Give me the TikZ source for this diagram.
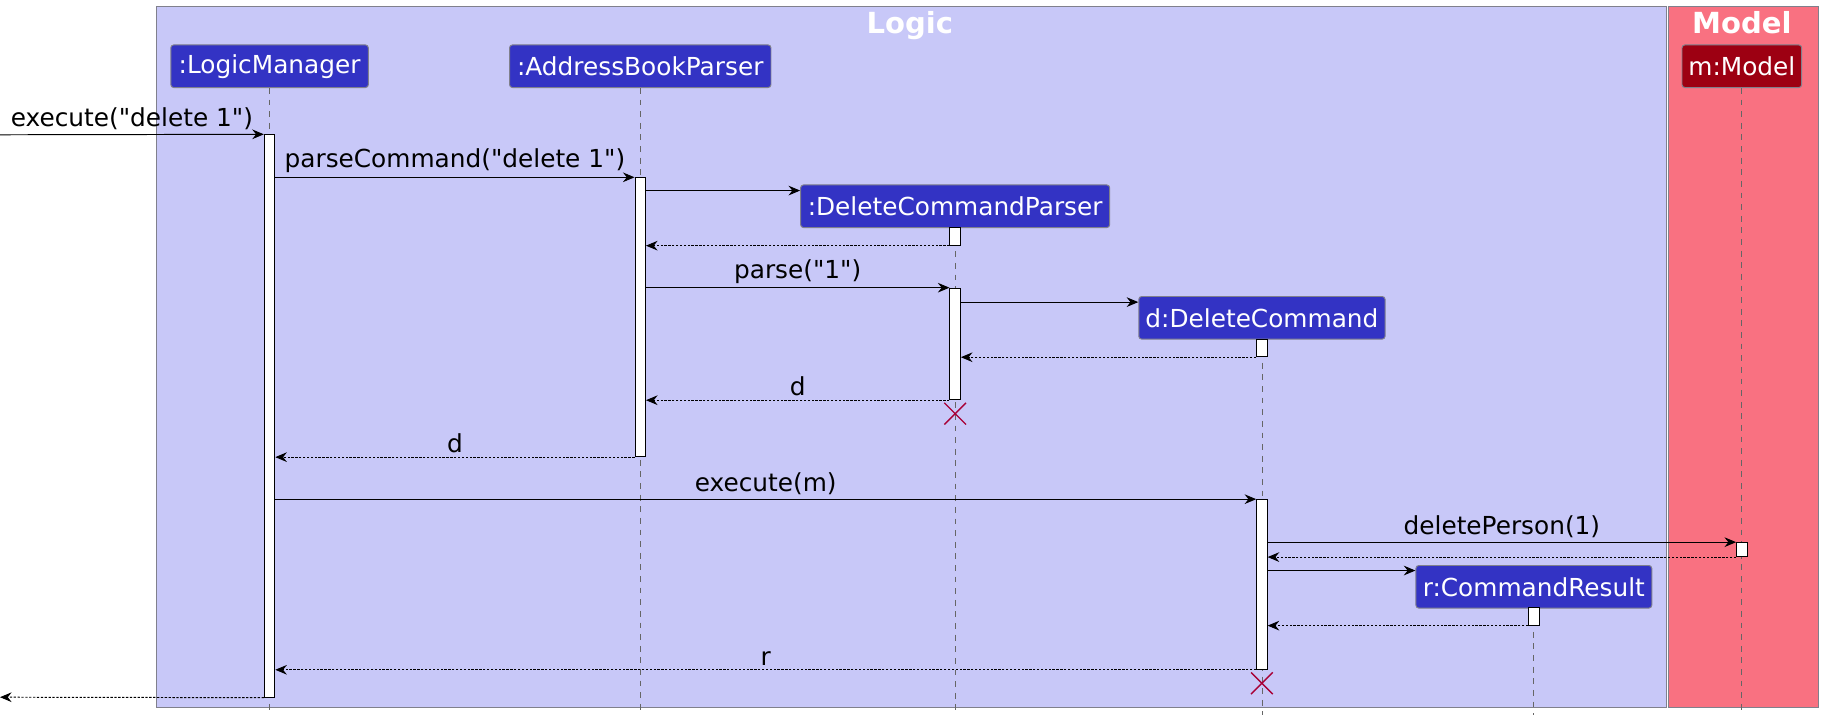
\documentclass[tikz,border=0pt]{standalone}
\usepackage{fontspec}
\setmainfont{DejaVu Sans}[Ligatures=TeXOff]
\usetikzlibrary{arrows.meta,fit,shapes.misc}

\definecolor{logicbg}{RGB}{200,200,248}
\definecolor{modelbg}{RGB}{249,113,129}
\definecolor{partblue}{RGB}{51,51,196}
\definecolor{partred}{RGB}{157,0,18}
\definecolor{killred}{RGB}{168,0,54}
\definecolor{framegray}{RGB}{128,128,140}

\tikzset{
  frame/.style={draw=framegray, line width=0.5pt},
  frametitle/.style={text=white, anchor=base, font=\fontsize{15}{18}\selectfont\bfseries},
  part/.style={draw=framegray, fill=partblue, text=white, rounded corners=1.5pt,
    line width=0.5pt, minimum height=22pt, inner sep=0pt, font=\fontsize{12.8}{15}\selectfont},
  life/.style={draw=black!60, line width=0.4pt, dash pattern=on 3pt off 3pt},
  act/.style={draw=black, fill=white, line width=0.5pt, inner sep=0pt},
  msg/.style={-{Stealth[length=6pt,width=5pt,inset=2pt]}, line width=0.5pt},
  ret/.style={msg, dash pattern=on 1.2pt off 0.8pt},
  lbl/.style={above, inner sep=2pt, text=black, font=\fontsize{12.8}{15}\selectfont},
  kill/.style={cross out, draw=killred, line width=0.7pt, minimum size=10.5pt, inner sep=0pt}
}

\newcommand{\actbar}[4]{\node[act, fit={(#2-4.5,#3)(#2+4.5,#4)}] (#1) {};}

\begin{document}
\begin{tikzpicture}[x=0.6pt, y=-0.6pt]
\useasboundingbox (0,0) rectangle (1568,620);

% Boxes
\draw[frame, fill=logicbg] (135,6) rectangle (1434,609);
\draw[frame, fill=modelbg] (1436,6) rectangle (1565,609);
\node[frametitle] (logicT) at (783,28.5) {Logic};
\node[frametitle] (modelT) at (1499,28.5) {Model};

% Participants
\node[part, minimum width=102pt] (lm) at (232,57) {:LogicManager};
\node[part, minimum width=135pt] (abp) at (551,57) {:AddressBookParser};
\node[part, minimum width=159.6pt] (dcp) at (822,177.5) {:DeleteCommandParser};
\node[part, minimum width=127.2pt] (dc) at (1086,273.5) {d:DeleteCommand};
\node[part, minimum width=121.8pt] (cr) at (1320,505) {r:CommandResult};
\node[part, fill=partred, minimum width=61.8pt] (m) at (1499,57) {m:Model};

\foreach \p in {lm,abp,dcp,dc,cr,m}
  \draw[life] (\p.south) -- (\p.south |- 0,615);

% Activations
\actbar{lmA}{232}{116}{600}
\actbar{abpA}{551}{153}{393}
\actbar{dcpA1}{822}{196}{211}
\actbar{dcpA2}{822}{248}{344}
\actbar{dcA1}{1086}{292}{307}
\actbar{dcA2}{1086}{430}{576}
\actbar{crA}{1320}{523}{538}
\actbar{mA}{1499}{467}{479}

% Messages
\coordinate (in) at (0,116);
\coordinate (out) at (0,600);
\draw[msg] (in) -- (lmA.north west) node[lbl, midway] {execute("delete 1")};
\draw[msg] (lmA.east |- abpA.north) -- (abpA.north west) node[lbl, midway] {parseCommand("delete 1")};
\draw[msg] (abpA.east |- 0,164) -- (dcp.west |- 0,164);
\draw[ret] (dcpA1.south west) -- (abpA.east |- dcpA1.south);
\draw[msg] (abpA.east |- dcpA2.north) -- (dcpA2.north west) node[lbl, midway] {parse("1")};
\draw[msg] (dcpA2.east |- 0,260) -- (dc.west |- 0,260);
\draw[ret] (dcA1.south west) -- (dcpA2.east |- dcA1.south);
\draw[ret] (dcpA2.south west) -- (abpA.east |- dcpA2.south) node[lbl, midway] {d};
\node[kill] (k1) at (822,356) {};
\draw[ret] (abpA.south west) -- (lmA.east |- abpA.south) node[lbl, midway] {d};
\draw[msg] (lmA.east |- dcA2.north) -- (dcA2.north west) node[lbl, midway] {execute(m)};
\draw[msg] (dcA2.east |- mA.north) -- (mA.north west) node[lbl, midway] {deletePerson(1)};
\draw[ret] (mA.south west) -- (dcA2.east |- mA.south);
\draw[msg] (dcA2.east |- 0,491) -- (cr.west |- 0,491);
\draw[ret] (crA.south west) -- (dcA2.east |- crA.south);
\draw[ret] (dcA2.south west) -- (lmA.east |- dcA2.south) node[lbl, midway] {r};
\node[kill] (k2) at (1086,588) {};
\draw[ret] (lmA.south west) -- (out);
\end{tikzpicture}
\end{document}
